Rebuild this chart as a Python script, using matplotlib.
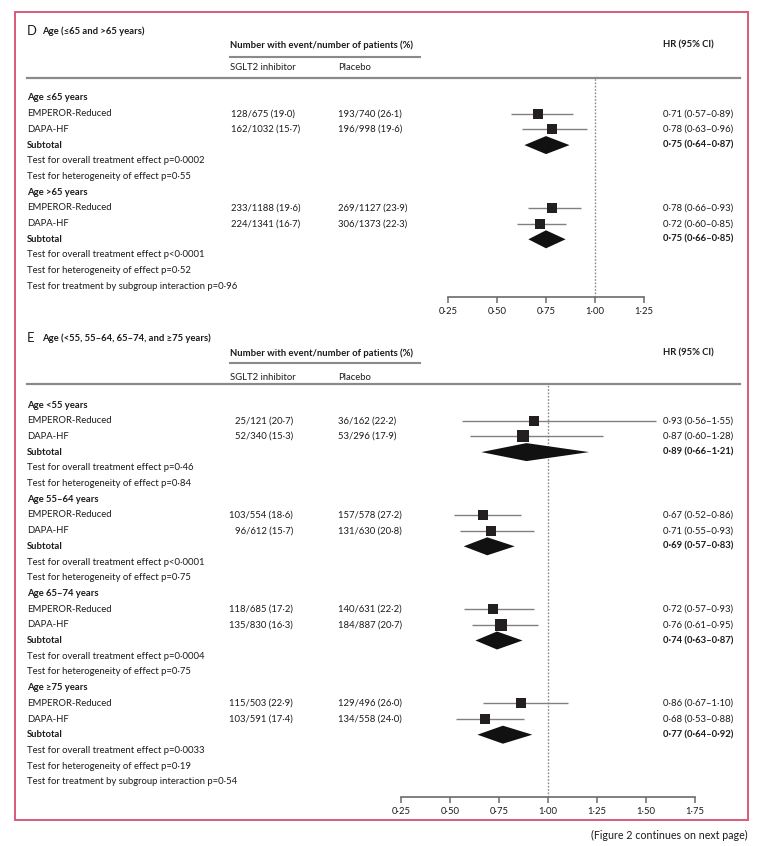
import matplotlib
matplotlib.use("Agg")
import matplotlib.pyplot as plt
from matplotlib import font_manager
from matplotlib.patches import Rectangle
import numpy as np

W, H = 764, 846

# pick a narrow font if we have it, else Lato
try:
    font_manager.findfont(font_manager.FontProperties(family="Liberation Sans Narrow"),
                          fallback_to_default=False)
    FONT, FS = "Liberation Sans Narrow", 7.3
except ValueError:
    FONT, FS = "Lato", 6.8
plt.rcParams["font.family"] = [FONT, "DejaVu Sans"]

TXT = "#1e1a1b"
GREY = "#8a8a8a"
PINK = "#d9587c"

trials = ["EMPEROR-Reduced", "DAPA-HF"]

# ---- panel D data ----
d_groups = ["Age ≤65 years", "Age >65 years"]
d_sglt2_events = [128, 162, 233, 224]
d_sglt2_n = [675, 1032, 1188, 1341]
d_sglt2_pct = [19.0, 15.7, 19.6, 16.7]
d_pbo_events = [193, 196, 269, 306]
d_pbo_n = [740, 998, 1127, 1373]
d_pbo_pct = [26.1, 19.6, 23.9, 22.3]
d_hr = [0.71, 0.78, 0.78, 0.72]
d_lo = [0.57, 0.63, 0.66, 0.60]
d_hi = [0.89, 0.96, 0.93, 0.85]
d_sub_hr = [0.75, 0.75]
d_sub_lo = [0.64, 0.66]
d_sub_hi = [0.87, 0.85]
d_p_overall = ["=0·0002", "<0·0001"]
d_p_het = ["=0·55", "=0·52"]
d_p_inter = "=0·96"
d_ticks = [0.25, 0.50, 0.75, 1.00, 1.25]

# ---- panel E data ----
e_groups = ["Age <55 years", "Age 55–64 years", "Age 65–74 years", "Age ≥75 years"]
e_sglt2_events = [25, 52, 103, 96, 118, 135, 115, 103]
e_sglt2_n = [121, 340, 554, 612, 685, 830, 503, 591]
e_sglt2_pct = [20.7, 15.3, 18.6, 15.7, 17.2, 16.3, 22.9, 17.4]
e_pbo_events = [36, 53, 157, 131, 140, 184, 129, 134]
e_pbo_n = [162, 296, 578, 630, 631, 887, 496, 558]
e_pbo_pct = [22.2, 17.9, 27.2, 20.8, 22.2, 20.7, 26.0, 24.0]
e_hr = [0.93, 0.87, 0.67, 0.71, 0.72, 0.76, 0.86, 0.68]
e_lo = [0.56, 0.60, 0.52, 0.55, 0.57, 0.61, 0.67, 0.53]
e_hi = [1.55, 1.28, 0.86, 0.93, 0.93, 0.95, 1.10, 0.88]
e_sub_hr = [0.89, 0.69, 0.74, 0.77]
e_sub_lo = [0.66, 0.57, 0.63, 0.64]
e_sub_hi = [1.21, 0.83, 0.87, 0.92]
e_p_overall = ["=0·46", "<0·0001", "=0·0004", "=0·0033"]
e_p_het = ["=0·84", "=0·75", "=0·75", "=0·19"]
e_p_inter = "=0·54"
e_ticks = [0.25, 0.50, 0.75, 1.00, 1.25, 1.50, 1.75]


def dot(s):
    return s.replace(".", "·")


def fmt_n(e, n, p):
    return dot(f"{e}/{n} ({p:.1f})")


def fmt_hr(h, l, u):
    return dot(f"{h:.2f} ({l:.2f}–{u:.2f})")


fig = plt.figure(figsize=(W / 100, H / 100), dpi=100)
ax = fig.add_axes([0, 0, 1, 1])
ax.set_xlim(0, W)
ax.set_ylim(H, 0)
ax.axis("off")

ax.add_patch(Rectangle((15, 12), 733, 808, fill=False, edgecolor=PINK, lw=1.4))
ax.text(748, 835, "(Figure 2 continues on next page)", ha="right", va="center",
        fontsize=FS * 1.12, color=TXT)

ROW = 15.7


def panel(letter, title, top, bottom, x025, ticks, groups,
          se, sn, sp, pe, pn, pp, hr, lo, hi, shr, slo, shi, p_over, p_het, p_inter,
          sglt_right=False):
    title_y, head_y, under_y, sub_y, rule_y, first_y = top
    ax.text(27, title_y, letter, fontsize=FS * 1.38, color=TXT, va="center")
    ax.text(42, title_y, title, fontsize=FS, fontweight="bold", color=TXT, va="center")
    ax.text(230, head_y, "Number with event/number of patients (%)", fontsize=FS,
            fontweight="bold", color=TXT, va="center")
    ax.text(663, head_y, "HR (95% CI)", fontsize=FS, fontweight="bold", color=TXT, va="center")
    ax.plot([230, 420], [under_y, under_y], color=GREY, lw=1.5)
    ax.text(230, sub_y, "SGLT2 inhibitor", fontsize=FS, color=TXT, va="center")
    ax.text(338, sub_y, "Placebo", fontsize=FS, color=TXT, va="center")
    ax.plot([27, 740], [rule_y, rule_y], color=GREY, lw=1.6)

    # forest axes sharing the pixel y scale
    px_per_unit = 196.0  # 0.25 HR = 49 px
    xright = x025 + (ticks[-1] - 0.25) * px_per_unit
    fa = fig.add_axes([x025 / W, 1 - bottom / H, (xright - x025) / W, (bottom - rule_y) / H])
    fa.set_xlim(0.25, ticks[-1])
    fa.set_ylim(bottom, rule_y)
    fa.patch.set_alpha(0)
    for s in ["top", "left", "right"]:
        fa.spines[s].set_visible(False)
    fa.spines["bottom"].set_color("#6b6b6b")
    fa.spines["bottom"].set_linewidth(1.2)
    fa.set_yticks([])
    fa.set_xticks(ticks)
    fa.set_xticklabels([dot(f"{t:.2f}") for t in ticks])
    fa.tick_params(axis="x", direction="out", length=4, width=1.1, color="#6b6b6b",
                   labelsize=FS, labelcolor=TXT, pad=3)
    fa.axvline(1.0, color="#8a8a8a", lw=1.0, ls=(0, (1.2, 1.2)), zorder=1)

    y = first_y
    for g, name in enumerate(groups):
        ax.text(27, y, name, fontsize=FS, fontweight="bold", color=TXT, va="center")
        y += ROW
        i0 = 2 * g
        tot = (se[i0] + pe[i0]) + (se[i0 + 1] + pe[i0 + 1])
        for k in range(2):
            i = i0 + k
            ax.text(27, y, trials[k], fontsize=FS, color=TXT, va="center")
            if sglt_right:
                ax.text(293, y, fmt_n(se[i], sn[i], sp[i]), fontsize=FS, color=TXT,
                        va="center", ha="right")
            else:
                ax.text(231, y, fmt_n(se[i], sn[i], sp[i]), fontsize=FS, color=TXT, va="center")
            ax.text(338, y, fmt_n(pe[i], pn[i], pp[i]), fontsize=FS, color=TXT, va="center")
            ax.text(663, y, fmt_hr(hr[i], lo[i], hi[i]), fontsize=FS, color=TXT, va="center")
            fa.hlines(y, lo[i], hi[i], color="#808080", lw=1.0, zorder=2)
            w = (se[i] + pe[i]) / tot
            size_px = 15 * np.sqrt(w)
            fa.scatter([hr[i]], [y], marker="s", s=(size_px * 0.72) ** 2, color="#231f20",
                       lw=0, zorder=3, clip_on=False)
            y += ROW
        ax.text(27, y, "Subtotal", fontsize=FS, fontweight="bold", color=TXT, va="center")
        ax.text(663, y, fmt_hr(shr[g], slo[g], shi[g]), fontsize=FS, fontweight="bold",
                color=TXT, va="center")
        fa.fill([slo[g], shr[g], shi[g], shr[g]], [y, y - 9, y, y + 9], color="#111111",
                lw=0, zorder=4)
        y += ROW
        tests = ["Test for overall treatment effect p" + p_over[g],
                 "Test for heterogeneity of effect p" + p_het[g]]
        if g == len(groups) - 1:
            tests.append("Test for treatment by subgroup interaction p" + p_inter)
        for t in tests:
            ax.text(27, y, t, fontsize=FS, color=TXT, va="center")
            y += ROW


panel("D", "Age (≤65 and >65 years)", (31, 45, 57, 68, 78, 98), 297, 448, d_ticks,
      d_groups, d_sglt2_events, d_sglt2_n, d_sglt2_pct, d_pbo_events, d_pbo_n, d_pbo_pct,
      d_hr, d_lo, d_hi, d_sub_hr, d_sub_lo, d_sub_hi, d_p_overall, d_p_het, d_p_inter)

panel("E", "Age (<55, 55–64, 65–74, and ≥75 years)", (338, 353, 363, 377, 384, 405), 797, 401,
      e_ticks, e_groups, e_sglt2_events, e_sglt2_n, e_sglt2_pct, e_pbo_events, e_pbo_n,
      e_pbo_pct, e_hr, e_lo, e_hi, e_sub_hr, e_sub_lo, e_sub_hi, e_p_overall, e_p_het,
      e_p_inter, sglt_right=True)

fig.savefig("out.png", dpi=100)
